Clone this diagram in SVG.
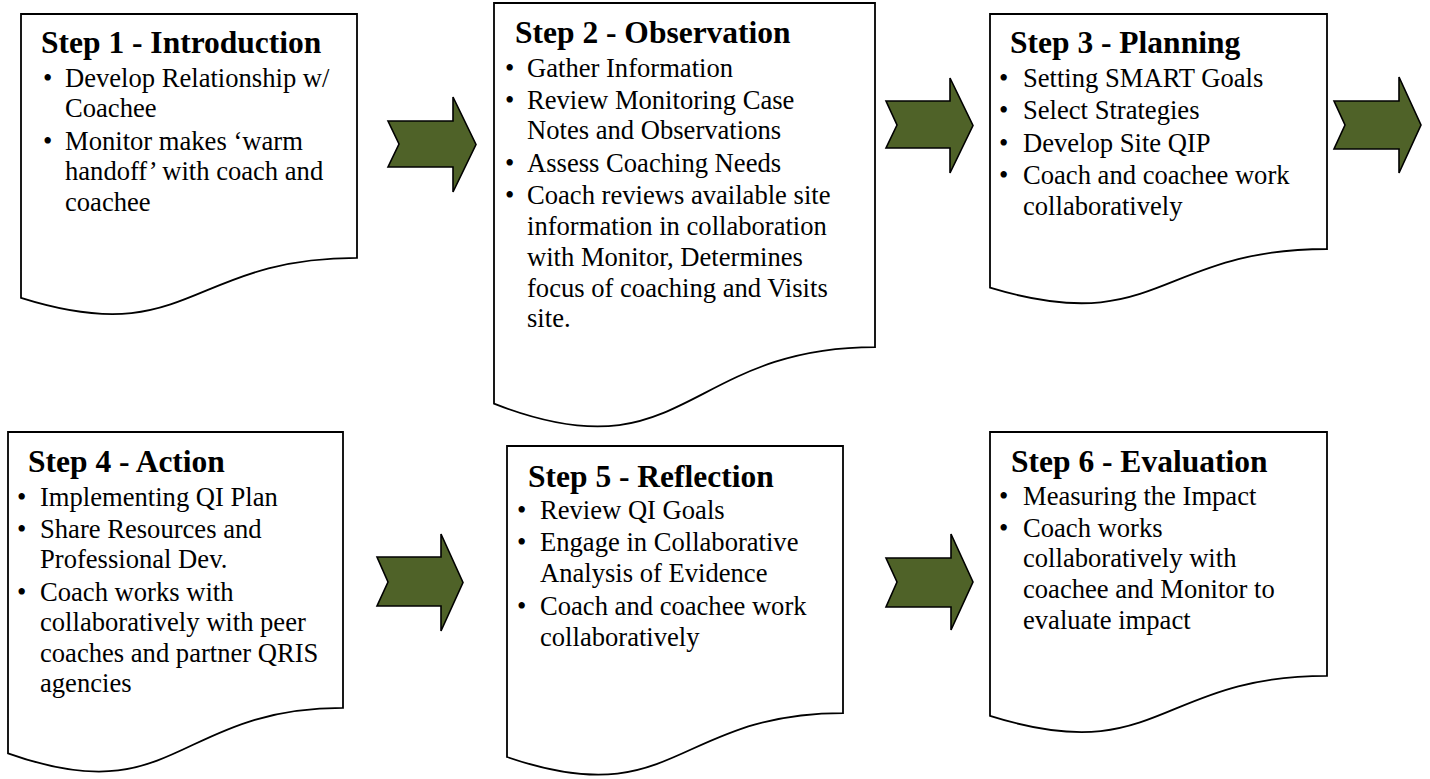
<svg xmlns="http://www.w3.org/2000/svg" width="1430" height="779" viewBox="0 0 1430 779">
  <rect width="1430" height="779" fill="#ffffff"/>
  <g id="step1">
    <path d="M21,14 H357 V257.8 C189,257.8 189,350.7 21,297.9 Z" fill="#ffffff" stroke="#000000" stroke-width="1.8"/>
    <text x="41" y="53" font-family="Liberation Serif" font-weight="bold" font-size="31.5">Step 1 - Introduction</text>
    <text y="87" font-family="Liberation Serif" font-size="26.6"><tspan x="43">•</tspan><tspan x="65">Develop Relationship w/</tspan></text>
    <text x="65" y="117" font-family="Liberation Serif" font-size="26.6">Coachee</text>
    <text y="150" font-family="Liberation Serif" font-size="26.6"><tspan x="43">•</tspan><tspan x="65">Monitor makes ‘warm</tspan></text>
    <text x="65" y="180" font-family="Liberation Serif" font-size="26.6">handoff’ with coach and</text>
    <text x="65" y="211" font-family="Liberation Serif" font-size="26.6">coachee</text>
  </g>
  <g id="step2">
    <path d="M494,3 H875 V347.1 C684.5,347.1 684.5,478.1 494,403.7 Z" fill="#ffffff" stroke="#000000" stroke-width="1.8"/>
    <text x="515" y="43" font-family="Liberation Serif" font-weight="bold" font-size="31.5">Step 2 - Observation</text>
    <text y="77" font-family="Liberation Serif" font-size="26.6"><tspan x="505">•</tspan><tspan x="527">Gather Information</tspan></text>
    <text y="109" font-family="Liberation Serif" font-size="26.6"><tspan x="505">•</tspan><tspan x="527">Review Monitoring Case</tspan></text>
    <text x="527" y="139" font-family="Liberation Serif" font-size="26.6">Notes and Observations</text>
    <text y="172" font-family="Liberation Serif" font-size="26.6"><tspan x="505">•</tspan><tspan x="527">Assess Coaching Needs</tspan></text>
    <text y="204" font-family="Liberation Serif" font-size="26.6"><tspan x="505">•</tspan><tspan x="527">Coach reviews available site</tspan></text>
    <text x="527" y="235" font-family="Liberation Serif" font-size="26.6">information in collaboration</text>
    <text x="527" y="266" font-family="Liberation Serif" font-size="26.6">with Monitor, Determines</text>
    <text x="527" y="297" font-family="Liberation Serif" font-size="26.6">focus of coaching and Visits</text>
    <text x="527" y="327" font-family="Liberation Serif" font-size="26.6">site.</text>
  </g>
  <g id="step3">
    <path d="M990,14 H1327 V249 C1158.5,249 1158.5,338.5 990,287.7 Z" fill="#ffffff" stroke="#000000" stroke-width="1.8"/>
    <text x="1010" y="53" font-family="Liberation Serif" font-weight="bold" font-size="31.5">Step 3 - Planning</text>
    <text y="87" font-family="Liberation Serif" font-size="26.6"><tspan x="999">•</tspan><tspan x="1023">Setting SMART Goals</tspan></text>
    <text y="119" font-family="Liberation Serif" font-size="26.6"><tspan x="999">•</tspan><tspan x="1023">Select Strategies</tspan></text>
    <text y="152" font-family="Liberation Serif" font-size="26.6"><tspan x="999">•</tspan><tspan x="1023">Develop Site QIP</tspan></text>
    <text y="184" font-family="Liberation Serif" font-size="26.6"><tspan x="999">•</tspan><tspan x="1023">Coach and coachee work</tspan></text>
    <text x="1023" y="215" font-family="Liberation Serif" font-size="26.6">collaboratively</text>
  </g>
  <g id="step4">
    <path d="M8,432 H343 V707.9 C175.5,707.9 175.5,813 8,753.3 Z" fill="#ffffff" stroke="#000000" stroke-width="1.8"/>
    <text x="28" y="472" font-family="Liberation Serif" font-weight="bold" font-size="31.5">Step 4 - Action</text>
    <text y="506" font-family="Liberation Serif" font-size="26.6"><tspan x="17">•</tspan><tspan x="40">Implementing QI Plan</tspan></text>
    <text y="538" font-family="Liberation Serif" font-size="26.6"><tspan x="17">•</tspan><tspan x="40">Share Resources and</tspan></text>
    <text x="40" y="568" font-family="Liberation Serif" font-size="26.6">Professional Dev.</text>
    <text y="601" font-family="Liberation Serif" font-size="26.6"><tspan x="17">•</tspan><tspan x="40">Coach works with</tspan></text>
    <text x="40" y="631" font-family="Liberation Serif" font-size="26.6">collaboratively with peer</text>
    <text x="40" y="662" font-family="Liberation Serif" font-size="26.6">coaches and partner QRIS</text>
    <text x="40" y="692" font-family="Liberation Serif" font-size="26.6">agencies</text>
  </g>
  <g id="step5">
    <path d="M507,446 H843 V713.1 C675,713.1 675,814.8 507,757 Z" fill="#ffffff" stroke="#000000" stroke-width="1.8"/>
    <text x="528" y="487" font-family="Liberation Serif" font-weight="bold" font-size="31.5">Step 5 - Reflection</text>
    <text y="519" font-family="Liberation Serif" font-size="26.6"><tspan x="517">•</tspan><tspan x="540">Review QI Goals</tspan></text>
    <text y="551" font-family="Liberation Serif" font-size="26.6"><tspan x="517">•</tspan><tspan x="540">Engage in Collaborative</tspan></text>
    <text x="540" y="582" font-family="Liberation Serif" font-size="26.6">Analysis of Evidence</text>
    <text y="615" font-family="Liberation Serif" font-size="26.6"><tspan x="517">•</tspan><tspan x="540">Coach and coachee work</tspan></text>
    <text x="540" y="646" font-family="Liberation Serif" font-size="26.6">collaboratively</text>
  </g>
  <g id="step6">
    <path d="M990,432 H1327 V675.8 C1158.5,675.8 1158.5,768.7 990,715.9 Z" fill="#ffffff" stroke="#000000" stroke-width="1.8"/>
    <text x="1011" y="472" font-family="Liberation Serif" font-weight="bold" font-size="31.5">Step 6 - Evaluation</text>
    <text y="505" font-family="Liberation Serif" font-size="26.6"><tspan x="999">•</tspan><tspan x="1023">Measuring the Impact</tspan></text>
    <text y="537" font-family="Liberation Serif" font-size="26.6"><tspan x="999">•</tspan><tspan x="1023">Coach works</tspan></text>
    <text x="1023" y="567" font-family="Liberation Serif" font-size="26.6">collaboratively with</text>
    <text x="1023" y="598" font-family="Liberation Serif" font-size="26.6">coachee and Monitor to</text>
    <text x="1023" y="629" font-family="Liberation Serif" font-size="26.6">evaluate impact</text>
  </g>
  <g id="connectors" fill="#4f6228" stroke="#000000" stroke-width="1.6">
    <path d="M388,121 H453 V97 L476,144.5 L453,192 V167 H388 L399,144 Z"/>
    <path d="M886,101 H950 V78 L973,125.5 L950,173 V148 H886 L897,125 Z"/>
    <path d="M1334,101 H1399 V77 L1421,125 L1399,173 V149 H1334 L1345,125 Z"/>
    <path d="M377,557 H441 V534 L463,582.5 L441,631 V606 H377 L388,582 Z"/>
    <path d="M886,558 H951 V534 L973,582 L951,630 V607 H886 L897,582 Z"/>
  </g>
</svg>
